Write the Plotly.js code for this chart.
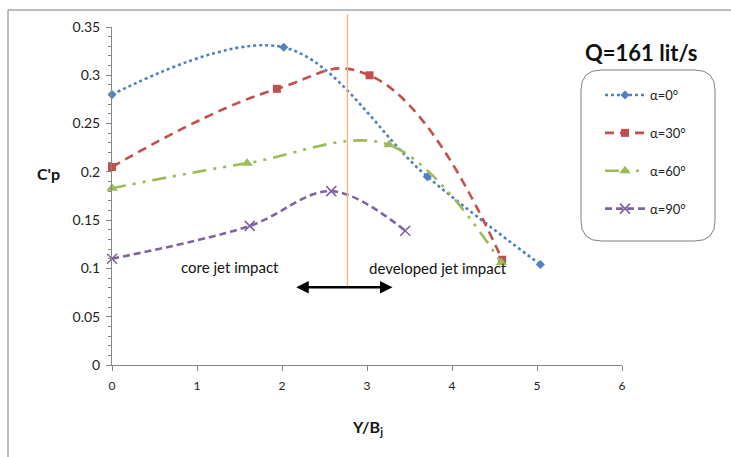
<!DOCTYPE html>
<html>
<head>
<meta charset="utf-8">
<script src="https://cdn.plot.ly/plotly-3.0.1.min.js"></script>
<style>html,body{margin:0;padding:0;background:#fff;}#chart{width:731px;height:457px;}</style>
</head>
<body>
<div id="chart"></div>
<script>
// Data
const seriesNames = ["α=0°", "α=30°", "α=60°", "α=90°"];
const x_a0  = [0, 2.02, 3.71, 5.04];
const y_a0  = [0.280, 0.329, 0.195, 0.104];
const x_a30 = [0, 1.94, 3.03, 4.59];
const y_a30 = [0.205, 0.286, 0.300, 0.109];
const x_a60 = [0, 1.59, 3.26, 4.58];
const y_a60 = [0.183, 0.209, 0.228, 0.106];
const x_a90 = [0, 1.62, 2.58, 3.45];
const y_a90 = [0.110, 0.144, 0.180, 0.139];
const xTicks = [0, 1, 2, 3, 4, 5, 6];
const yTicks = [0, 0.05, 0.1, 0.15, 0.2, 0.25, 0.3, 0.35];
const divideX = 2.77;                 // orange divider between regions
const arrowFrom = 2.15, arrowTo = 3.30, arrowY = 0.0806;
const regionLabels = ["core jet impact", "developed jet impact"];
const regionLabelX = [1.39, 3.84];
const regionLabelY = [0.102, 0.100];

const FONT = "Lato, 'Open Sans', sans-serif";
const colors = ["#4F81BD", "#C0504D", "#9BBB59", "#8064A2"];

function tr(x, y, i, dash, symbol, msize, smooth, extraMarker) {
  return {
    x: x, y: y, name: seriesNames[i], type: "scatter", mode: "lines+markers",
    legendgroup: "g" + i,
    line: {color: colors[i], width: 2.6, dash: dash, shape: "spline", smoothing: smooth},
    marker: Object.assign({color: colors[i], symbol: symbol, size: msize}, extraMarker || {}),
    cliponaxis: false
  };
}

const traces = [
  tr(x_a0, y_a0, 0, "dot", "diamond", 7, 1),
  tr(x_a30, y_a30, 1, "9px,6px", "square", 8, 1.3),
  tr(x_a60, y_a60, 2, "14px,7px,3px,7px,3px,7px", "triangle-up", 10, 1),
  tr(x_a90, y_a90, 3, "7px,4px", "x-thin", 10, 1, {line: {color: colors[3], width: 1.6}})
];

// paper-coordinate helpers for decoration placement
const L = 112, R = 622, T = 27, B = 365;
const px = v => (v - L) / (R - L);
const py = v => (B - v) / (B - T);

function roundedRect(x0, y0, x1, y1, r) {
  const rx = r / (R - L), ry = r / (B - T);
  const a = px(x0), b = px(x1), top = py(y0), bot = py(y1);
  return `M${a + rx},${top} L${b - rx},${top} Q${b},${top} ${b},${top - ry} ` +
         `L${b},${bot + ry} Q${b},${bot} ${b - rx},${bot} L${a + rx},${bot} ` +
         `Q${a},${bot} ${a},${bot + ry} L${a},${top - ry} Q${a},${top} ${a + rx},${top} Z`;
}

function label(text, x, y, size, refs) {
  return Object.assign({text: text, x: x, y: y, xref: "paper", yref: "paper",
    xanchor: "center", yanchor: "middle", showarrow: false,
    font: {family: FONT, size: size, color: "#111"}}, refs || {});
}

const layout = {
  width: 731, height: 457,
  margin: {l: L, r: 731 - R, t: T, b: 457 - B},
  paper_bgcolor: "#fff", plot_bgcolor: "#fff",
  font: {family: FONT, color: "#222", size: 12},
  showlegend: true,
  legend: {
    x: px(600), xanchor: "left", y: py(80), yanchor: "top",
    bgcolor: "rgba(0,0,0,0)", borderwidth: 0, itemwidth: 40,
    font: {family: FONT, size: 13, color: "#222"},
    tracegroupgap: 18
  },
  xaxis: {
    range: [0, 6], tickvals: xTicks, ticktext: xTicks.map(String),
    showgrid: false, zeroline: false, showline: true, linecolor: "#868686", linewidth: 1,
    ticks: "outside", ticklen: 5, tickcolor: "#868686", ticklabelstandoff: 5,
    tickfont: {family: FONT, size: 12, color: "#222"}
  },
  yaxis: {
    range: [0, 0.35], tickvals: yTicks, ticktext: yTicks.map(String),
    showgrid: false, zeroline: false, showline: true, linecolor: "#868686", linewidth: 1,
    ticks: "outside", ticklen: 5, tickcolor: "#868686", ticklabelstandoff: 3,
    minor: {dtick: 0.01, ticks: "outside", ticklen: 3, tickcolor: "#868686", showgrid: false},
    tickfont: {family: FONT, size: 14, color: "#222"}
  },
  shapes: [
    // outer chart border fragments
    {type: "line", xref: "paper", yref: "paper", x0: px(8), x1: px(731), y0: py(10), y1: py(10),
     line: {color: "#a6a6a6", width: 1.5}},
    {type: "line", xref: "paper", yref: "paper", x0: px(8), x1: px(8), y0: py(10), y1: py(457),
     line: {color: "#a6a6a6", width: 1.5}},
    // orange divider
    {type: "line", xref: "x", yref: "paper", x0: divideX, x1: divideX, y0: py(286), y1: py(14),
     line: {color: "#F8B27A", width: 1.3}},
    // rounded legend box
    {type: "path", xref: "paper", yref: "paper", path: roundedRect(581, 70, 715, 241, 20),
     line: {color: "#7f7f7f", width: 1}, fillcolor: "rgba(0,0,0,0)"}
  ],
  annotations: [
    label("<b>Q=161 lit/s</b>", px(641), py(52), 22),
    label("<b>C'p</b>", px(48), py(173), 16),
    label("<b>Y/B<sub>j</sub></b>", px(367), py(427), 16),
    label(regionLabels[0], regionLabelX[0], regionLabelY[0], 15, {xref: "x", yref: "y"}),
    label(regionLabels[1], regionLabelX[1], regionLabelY[1], 15, {xref: "x", yref: "y"}),
    {text: "", x: arrowTo, y: arrowY, ax: arrowFrom, ay: arrowY, xref: "x", yref: "y",
     axref: "x", ayref: "y", showarrow: true, arrowside: "end+start", arrowhead: 2,
     arrowsize: 1, arrowwidth: 2.5, arrowcolor: "#000", standoff: 0, startstandoff: 0}
  ]
};

Plotly.newPlot("chart", traces, layout, {displayModeBar: false, staticPlot: true});
</script>
</body>
</html>
